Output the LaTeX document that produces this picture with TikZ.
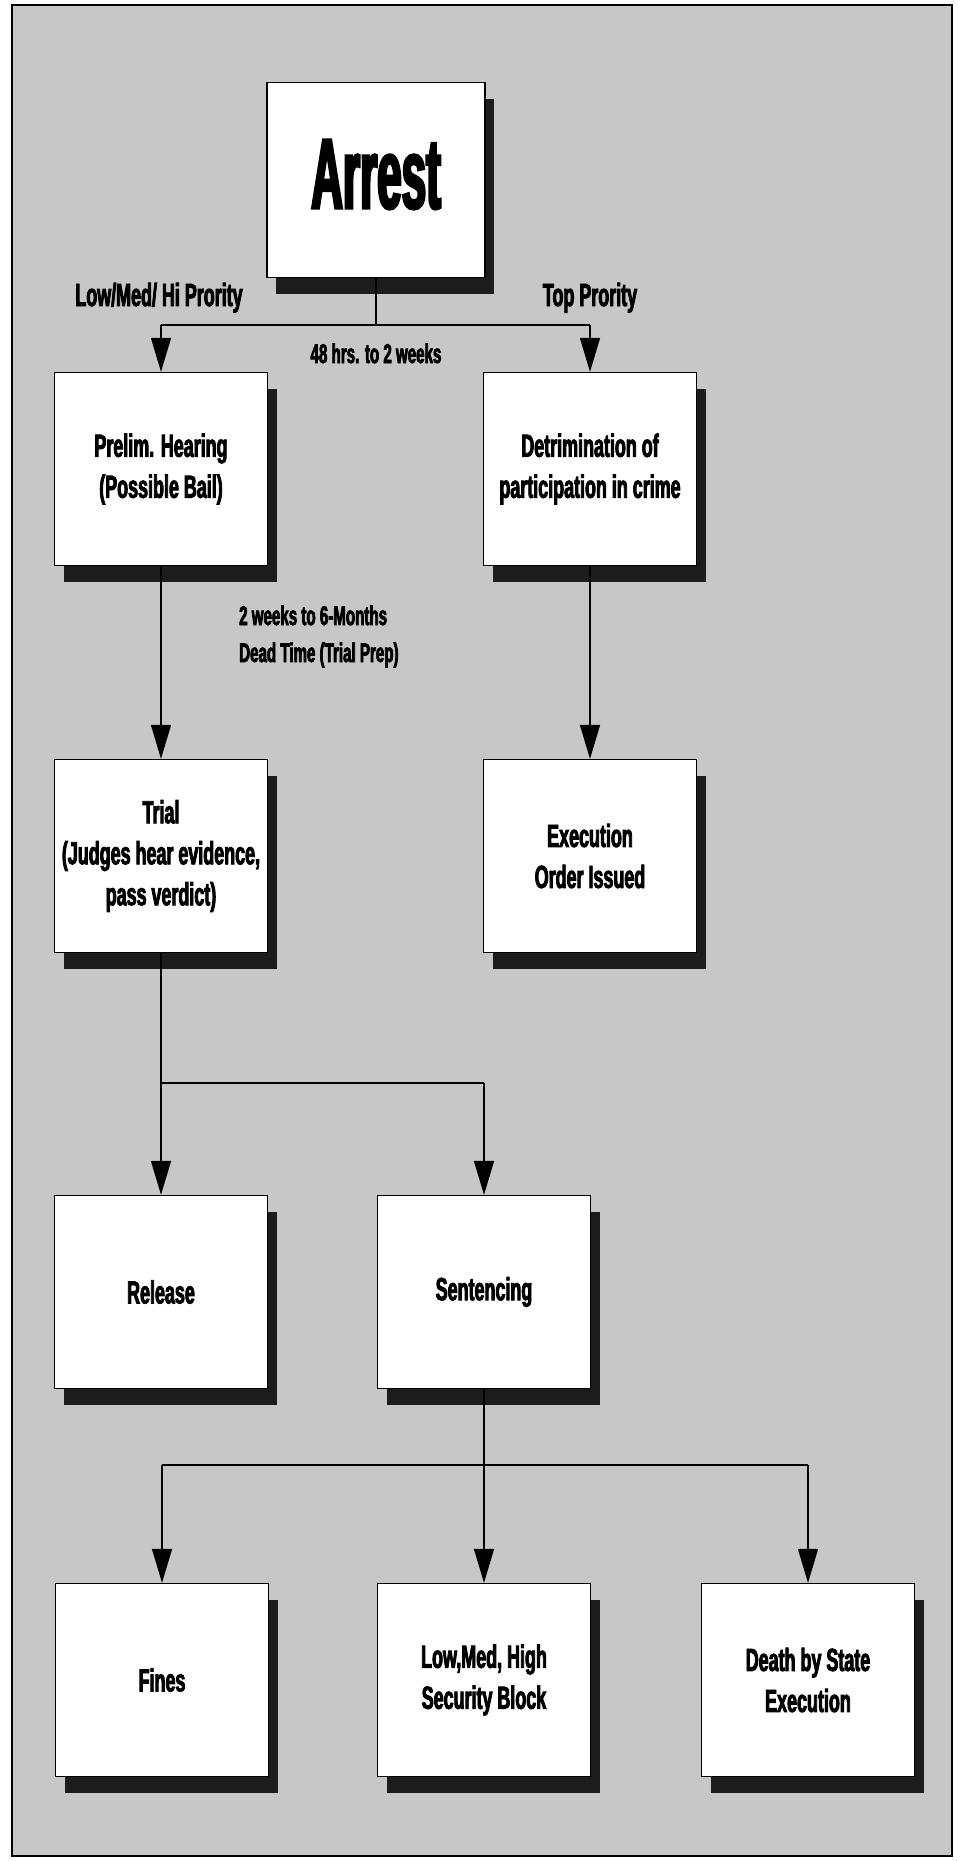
\documentclass[tikz,border=0pt]{standalone}
\usepackage{fontspec}
\usetikzlibrary{arrows.meta,shadows}
\newfontfamily\boxfont{Liberation Sans}[FakeStretch=0.56,FakeBold=2.6]
\newfontfamily\arrestfont{Liberation Sans}[FakeStretch=0.44,FakeBold=2.6]
\definecolor{bg}{RGB}{199,199,199}
\definecolor{shadowc}{RGB}{28,28,28}
\tikzset{
  stepbox/.style={draw=black, line width=1.3pt, fill=white,
    minimum width=213pt, minimum height=193pt, inner sep=2pt, align=center,
    font=\boxfont\bfseries\fontsize{32}{41}\selectfont,
    drop shadow={shadow xshift=9pt, shadow yshift=-16pt, fill=shadowc, opacity=1}},
  conn/.style={line width=1.5pt},
  arr/.style={line width=1.4pt, -{Triangle[length=34pt,width=20pt]}},
  lbl/.style={font=\boxfont\bfseries\fontsize{32}{41}\selectfont, inner sep=0pt},
  small/.style={font=\boxfont\bfseries\fontsize{27}{37}\selectfont, inner sep=0pt}
}
\begin{document}
\begin{tikzpicture}[x=1pt,y=-1pt]
\useasboundingbox (0,0) rectangle (959,1861);
\fill[white] (0,0) rectangle (959,1861);
\draw[line width=2pt, fill=bg] (12,5) rectangle (952,1856);

% boxes
\node[stepbox, minimum width=218pt, minimum height=195pt,
      font=\arrestfont\bfseries\fontsize{100}{100}\selectfont, text depth=12pt]
      (arrest) at (376,180) {Arrest};
\node[stepbox] (prelim) at (161,469) {Prelim. Hearing\\(Possible Bail)};
\node[stepbox] (det) at (590,469) {Detrimination of\\participation in crime};
\node[stepbox] (trial) at (161,856) {Trial\\(Judges hear evidence,\\pass verdict)};
\node[stepbox] (exec) at (590,856) {Execution\\Order Issued};
\node[stepbox] (release) at (161,1292) {Release};
\node[stepbox] (sent) at (484,1292) {Sentencing};
\node[stepbox] (fines) at (162,1680) {Fines};
\node[stepbox] (lowmed) at (484,1680) {Low,Med, High\\Security Block};
\node[stepbox] (death) at (808,1680) {Death by State\\Execution};

% labels
\node[lbl, anchor=base] (lowlbl) at (159,306) {Low/Med/ Hi Prority};
\node[lbl, anchor=base] (toplbl) at (590,306) {Top Prority};
\node[small, anchor=base] (hrs) at (376,363) {48 hrs. to 2 weeks};
\node[small, anchor=base west] (dead1) at (239,625) {2 weeks to 6-Months};
\node[small, anchor=base west] (dead2) at (239,662) {Dead Time (Trial Prep)};

% junction coordinates
\coordinate (b1) at (376,325);
\coordinate (b2) at (484,1083);
\coordinate (b3) at (484,1465);

% connectors
\draw[conn] (arrest.south) -- (b1);
\draw[conn] (prelim.north |- b1) -- (det.north |- b1);
\draw[arr] (prelim.north |- b1) -- (prelim.north);
\draw[arr] (det.north |- b1) -- (det.north);

\draw[arr] (prelim.south) -- (trial.north);
\draw[arr] (det.south) -- (exec.north);

\draw[arr] (trial.south) -- (release.north);
\draw[conn] (release.north |- b2) -- (b2);
\draw[arr] (b2) -- (sent.north);

\draw[arr] (sent.south) -- (lowmed.north);
\draw[conn] (fines.north |- b3) -- (death.north |- b3);
\draw[arr] (fines.north |- b3) -- (fines.north);
\draw[arr] (death.north |- b3) -- (death.north);
\end{tikzpicture}
\end{document}
